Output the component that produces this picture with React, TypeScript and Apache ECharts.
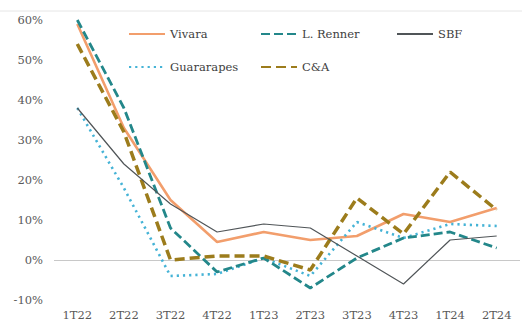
import React, { useEffect, useRef } from "react";
import * as echarts from "echarts";

const categories = ["1T22", "2T22", "3T22", "4T22", "1T23", "2T23", "3T23", "4T23", "1T24", "2T24"];
const vivara = [59, 33, 15, 4.5, 7, 5, 6, 11.5, 9.5, 13];
const renner = [60, 38, 8, -3, 0.5, -7, 0.5, 5.5, 7, 3];
const sbf = [38, 24, 14, 7, 9, 8, 1, -6, 5, 6];
const guararapes = [38, 18, -4, -3.5, 0.5, -4, 9.5, 5.5, 9, 8.5];
const cea = [54, 32, 0, 1, 1, -2.5, 15.5, 6.5, 22, 12.5];
const yTicks = [-10, 0, 10, 20, 30, 40, 50, 60];

const FONT = "'DejaVu Serif'";
const TXT = "#595959";
const FS = 11.5;

export default function App() {
  const ref = useRef<HTMLDivElement>(null);
  useEffect(() => {
    if (!ref.current) return;
    const chart = echarts.init(ref.current, undefined, { renderer: "svg" });
    const mkLegend = (name: string, left: number, top: number) => ({
      data: [name],
      left,
      top,
      padding: 0,
      itemWidth: 36,
      itemHeight: 6,
      itemGap: 0,
      itemStyle: { opacity: 0 },
      textStyle: { fontFamily: FONT, fontSize: FS, color: "#404040" },
      selectedMode: false,
    });
    chart.setOption({
      animation: false,
      backgroundColor: "#ffffff",
      legend: [
        mkLegend("Vivara", 128, 28),
        mkLegend("L. Renner", 260, 28),
        mkLegend("SBF", 396, 28),
        mkLegend("Guararapes", 128, 61),
        mkLegend("C&A", 260, 61),
      ],
      graphic: [
        { type: "line", shape: { x1: 0, y1: 11, x2: 522, y2: 11 }, style: { stroke: "#e6e6e6", lineWidth: 1 }, silent: true },
      ],
      grid: { left: 54, right: 2, top: 20, bottom: 27, containLabel: false },
      xAxis: {
        type: "category",
        data: categories,
        boundaryGap: true,
        axisLine: { show: false },
        axisTick: { show: false },
        axisLabel: { fontFamily: FONT, fontSize: FS, color: TXT, margin: 9 },
      },
      yAxis: {
        type: "value",
        min: yTicks[0],
        max: yTicks[yTicks.length - 1],
        interval: 10,
        splitLine: { show: false },
        axisLine: { show: false },
        axisTick: { show: false },
        axisLabel: {
          fontFamily: FONT,
          fontSize: FS,
          color: TXT,
          margin: 11,
          formatter: (v: number) => (v < 0 ? "-" + Math.abs(v) + "%" : v + "%"),
        },
      },
      series: [
        {
          name: "Vivara",
          type: "line",
          data: vivara,
          symbol: "none",
          z: 3,
          lineStyle: { color: "#F29E6C", width: 2.6, type: "solid" },
          itemStyle: { color: "#F29E6C" },
          markLine: {
            silent: true,
            symbol: "none",
            label: { show: false },
            lineStyle: { color: "#C8C8C8", width: 1, type: "solid" },
            data: [{ yAxis: 0 }],
            z: 1,
          },
        },
        {
          name: "L. Renner",
          type: "line",
          data: renner,
          symbol: "none",
          z: 4,
          lineStyle: { color: "#23878A", width: 2.8, type: [9, 4] },
          itemStyle: { color: "#23878A" },
        },
        {
          name: "SBF",
          type: "line",
          data: sbf,
          symbol: "none",
          z: 5,
          lineStyle: { color: "#505558", width: 1.2, type: "solid" },
          itemStyle: { color: "#505558" },
        },
        {
          name: "Guararapes",
          type: "line",
          data: guararapes,
          symbol: "none",
          z: 3,
          lineStyle: { color: "#45B3D6", width: 2.6, type: [2.2, 4] },
          itemStyle: { color: "#45B3D6" },
        },
        {
          name: "C&A",
          type: "line",
          data: cea,
          symbol: "none",
          z: 4,
          lineStyle: { color: "#9C7C1C", width: 3.5, type: [10, 5] },
          itemStyle: { color: "#9C7C1C" },
        },
      ],
    });
    return () => chart.dispose();
  }, []);
  return <div ref={ref} style={{ position: "fixed", left: 0, top: 0, width: 522, height: 327 }} />;
}
